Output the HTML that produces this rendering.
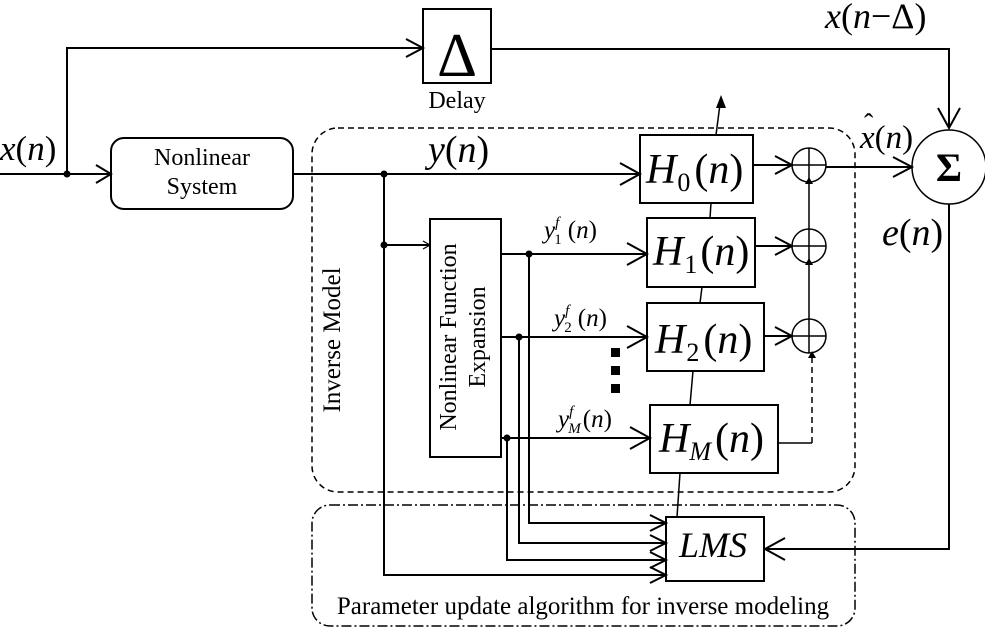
<!DOCTYPE html>
<html><head><meta charset="utf-8"><style>
html,body{margin:0;padding:0;background:#fff}
svg{display:block}
text{font-family:"Liberation Serif",serif;fill:#000}
.i{font-style:italic}
</style></head><body>
<svg width="985" height="628" viewBox="0 0 985 628" xmlns="http://www.w3.org/2000/svg">
<g fill="none" stroke="#000" stroke-width="2">
<rect x="312" y="128" width="543" height="364" rx="26" stroke-dasharray="6,4" stroke-width="1.5"/>
<rect x="312" y="505" width="543" height="121" rx="18" stroke-dasharray="10,3,2,3" stroke-width="1.5"/>
<line x1="0" y1="174" x2="111" y2="174"/>
<polyline points="96,165 111,174 96,183"/>
<polyline points="67,174 67,48 423,48"/>
<polyline points="406,39 423,48 406,57"/>
<rect x="423" y="9" width="68" height="74"/>
<rect x="111" y="138" width="182" height="71" rx="13"/>
<line x1="293" y1="174" x2="640" y2="174"/>
<polyline points="620,163 640,174 620,185"/>
<polyline points="384,174 384,575 666,575"/>
<line x1="384" y1="245" x2="430" y2="245" />
<polyline points="423,241 430,245 423,249" stroke-width="1.2"/>
<rect x="430" y="219" width="71" height="238"/>
<line x1="501" y1="254" x2="647" y2="254"/>
<polyline points="627,243 647,254 627,265"/>
<polyline points="529,254 529,523 666,523"/>
<line x1="501" y1="337" x2="647" y2="337"/>
<polyline points="627,326 647,337 627,348"/>
<polyline points="519,337 519,543 666,543"/>
<line x1="501" y1="438" x2="650" y2="438"/>
<polyline points="630,427 650,438 630,449"/>
<polyline points="507,438 507,560 666,560"/>
<polyline points="650,515 666,523 650,531"/>
<polyline points="650,535 666,543 650,551"/>
<polyline points="650,552 666,560 650,568"/>
<polyline points="650,567 666,575 650,583"/>
<rect x="640" y="135" width="113" height="68"/>
<rect x="647" y="218" width="108" height="69"/>
<rect x="647" y="303" width="117" height="68"/>
<rect x="650" y="405" width="128" height="68"/>
<rect x="666" y="517" width="98" height="64"/>
<g stroke-width="1.5">
<line x1="677" y1="517" x2="680" y2="473"/>
<line x1="690" y1="405" x2="693" y2="371"/>
<line x1="700" y1="303" x2="702" y2="287"/>
<line x1="710" y1="218" x2="711" y2="203"/>
<line x1="716" y1="135" x2="720" y2="104"/>
</g>
<line x1="753" y1="165" x2="792" y2="165"/>
<polyline points="775,156 792,165 775,174"/>
<line x1="755" y1="246" x2="792" y2="246"/>
<polyline points="775,237 792,246 775,255"/>
<line x1="764" y1="336" x2="792" y2="336"/>
<polyline points="775,327 792,336 775,345"/>
<circle cx="809" cy="165" r="17" stroke-width="1.5"/>
<circle cx="809" cy="246" r="17" stroke-width="1.5"/>
<circle cx="809" cy="336" r="17" stroke-width="1.5"/>
<g stroke-width="1.5">
<line x1="792" y1="165" x2="826" y2="165"/><line x1="809" y1="148" x2="809" y2="182"/>
<line x1="792" y1="246" x2="826" y2="246"/><line x1="809" y1="229" x2="809" y2="263"/>
<line x1="792" y1="336" x2="826" y2="336"/><line x1="809" y1="319" x2="809" y2="353"/>
<line x1="809" y1="229" x2="809" y2="184"/>
<line x1="809" y1="319" x2="809" y2="265"/>
<polyline points="778,443 812,443"/>
<line x1="812" y1="443" x2="812" y2="356" stroke-dasharray="6,4"/>
</g>
<line x1="826" y1="167" x2="912" y2="167"/>
<polyline points="893,157 912,167 893,177"/>
<circle cx="949" cy="167" r="37" stroke-width="1.5"/>
<polyline points="491,49 949,49 949,128"/>
<polyline points="938,108 949,128 960,108"/>
<polyline points="949,204 949,549 765,549"/>
<polyline points="785,538 765,549 785,560"/>
</g>
<g fill="#000">
<circle cx="67" cy="174" r="3.5"/><circle cx="384" cy="174" r="3.5"/><circle cx="384" cy="245" r="3.5"/>
<circle cx="529" cy="254" r="3.5"/><circle cx="519" cy="337" r="3.5"/><circle cx="507" cy="438" r="3.5"/>
<polygon points="721,95 716,108 726,108"/>
<polygon points="805,184 809,177 813,184"/><polygon points="805,265 809,258 813,265"/><polygon points="808,358 812,351 816,358"/>
<rect x="611" y="348" width="9" height="9"/><rect x="611" y="366" width="9" height="9"/><rect x="611" y="384" width="9" height="9"/>
</g>
<text x="457" y="76" font-size="62" text-anchor="middle">Δ</text>
<text x="457" y="108" font-size="24" text-anchor="middle">Delay</text>
<text x="202" y="165" font-size="24" text-anchor="middle">Nonlinear</text>
<text x="202" y="194" font-size="24" text-anchor="middle">System</text>
<text x="0" y="160" font-size="35"><tspan class="i">x</tspan>(<tspan class="i">n</tspan>)</text>
<text x="428" y="162" font-size="38"><tspan class="i">y</tspan>(<tspan class="i">n</tspan>)</text>
<text x="825" y="28" font-size="36"><tspan class="i">x</tspan>(<tspan class="i">n</tspan>−Δ)</text>
<text x="860" y="148" font-size="33"><tspan class="i">x</tspan>(<tspan class="i">n</tspan>)</text>
<text x="864" y="133" font-size="28">ˆ</text>
<text x="882" y="245" font-size="38"><tspan class="i">e</tspan>(<tspan class="i">n</tspan>)</text>
<text x="949" y="181" font-size="40" font-weight="bold" text-anchor="middle">Σ</text>
<text x="340" y="340" font-size="25" text-anchor="middle" transform="rotate(-90 340 340)">Inverse Model</text>
<text x="456" y="337" font-size="24" text-anchor="middle" transform="rotate(-90 456 337)">Nonlinear Function</text>
<text x="485" y="337" font-size="24" text-anchor="middle" transform="rotate(-90 485 337)">Expansion</text>
<text x="544" y="238" font-size="25"><tspan class="i">y</tspan><tspan class="i" font-size="15" dy="-11">f</tspan><tspan font-size="15" dx="-5" dy="17">1</tspan><tspan dx="6" dy="-6">(</tspan><tspan class="i">n</tspan>)</text>
<text x="554" y="326" font-size="25"><tspan class="i">y</tspan><tspan class="i" font-size="15" dy="-11">f</tspan><tspan font-size="15" dx="-5" dy="17">2</tspan><tspan dx="6" dy="-6">(</tspan><tspan class="i">n</tspan>)</text>
<text x="558" y="427" font-size="25"><tspan class="i">y</tspan><tspan class="i" font-size="15" dy="-11">f</tspan><tspan class="i" font-size="15" dx="-5" dy="17">M</tspan><tspan dy="-6" dx="2">(</tspan><tspan class="i">n</tspan>)</text>
<text x="646" y="183" font-size="42"><tspan class="i">H</tspan><tspan font-size="26" dy="8" dx="1">0</tspan><tspan dy="-8" dx="4">(</tspan><tspan class="i">n</tspan>)</text>
<text x="653" y="265" font-size="42"><tspan class="i">H</tspan><tspan font-size="26" dy="8" dx="1">1</tspan><tspan dy="-8" dx="3">(</tspan><tspan class="i">n</tspan>)</text>
<text x="655" y="353" font-size="42"><tspan class="i">H</tspan><tspan font-size="26" dy="8" dx="1">2</tspan><tspan dy="-8" dx="4">(</tspan><tspan class="i">n</tspan>)</text>
<text x="659" y="452" font-size="42"><tspan class="i">H</tspan><tspan class="i" font-size="26" dy="8">M</tspan><tspan dy="-8" dx="4">(</tspan><tspan class="i">n</tspan>)</text>
<text x="713" y="557" font-size="36" class="i" text-anchor="middle">LMS</text>
<text x="583" y="614" font-size="25" text-anchor="middle">Parameter update algorithm for inverse modeling</text>
</svg>
</body></html>
